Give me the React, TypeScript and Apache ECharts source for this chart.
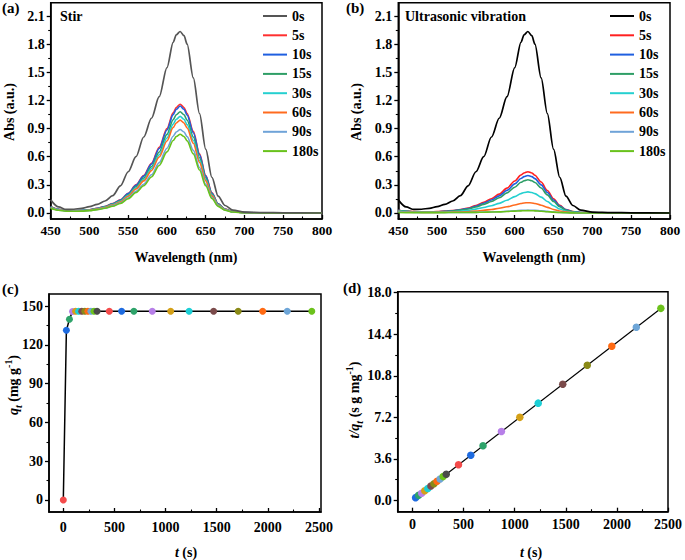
import { useEffect, useRef } from 'react';
import * as echarts from 'echarts';

const FONT = '"Liberation Serif", "Times New Roman", serif';

// ---- Panels (a) and (b): UV-vis spectra ----
const wavelength = [450, 460, 470, 480, 490, 500, 510, 520, 530, 540, 550, 560, 570, 580, 590, 600, 608, 612, 617, 622, 626, 634, 642, 650, 658, 666, 675, 685, 700, 725, 750, 800];
const timeLabels = ['0s', '5s', '10s', '15s', '30s', '60s', '90s', '180s'];

const abs0s = [0.14, 0.065, 0.038, 0.04, 0.05, 0.068, 0.092, 0.128, 0.185, 0.29, 0.44, 0.6, 0.81, 1.01, 1.24, 1.55, 1.82, 1.9, 1.935, 1.89, 1.8, 1.44, 1.06, 0.68, 0.38, 0.18, 0.08, 0.03, 0.01, 0.004, 0.002, 0];

const stir5s = [0.07, 0.039, 0.028, 0.026, 0.028, 0.035, 0.05, 0.07, 0.1, 0.14, 0.21, 0.3, 0.4, 0.53, 0.7, 0.9, 1.067, 1.125, 1.16, 1.125, 1.061, 0.87, 0.632, 0.4, 0.215, 0.099, 0.041, 0.014, 0.005, 0.001, 0, 0];
const stir10s = [0.068, 0.039, 0.027, 0.025, 0.027, 0.034, 0.049, 0.068, 0.098, 0.138, 0.206, 0.295, 0.393, 0.521, 0.687, 0.885, 1.049, 1.106, 1.14, 1.106, 1.043, 0.855, 0.621, 0.393, 0.211, 0.097, 0.04, 0.014, 0.005, 0.001, 0, 0];
const stir15s = [0.065, 0.037, 0.026, 0.024, 0.026, 0.032, 0.046, 0.065, 0.093, 0.131, 0.195, 0.28, 0.373, 0.494, 0.651, 0.838, 0.994, 1.048, 1.08, 1.048, 0.988, 0.81, 0.589, 0.373, 0.2, 0.092, 0.038, 0.013, 0.004, 0.001, 0, 0];
const stir30s = [0.062, 0.035, 0.025, 0.023, 0.025, 0.031, 0.044, 0.062, 0.089, 0.125, 0.186, 0.267, 0.355, 0.471, 0.621, 0.799, 0.948, 0.999, 1.03, 0.999, 0.942, 0.773, 0.561, 0.355, 0.191, 0.088, 0.036, 0.012, 0.004, 0.001, 0, 0];
const stir60s = [0.06, 0.034, 0.024, 0.022, 0.024, 0.03, 0.043, 0.059, 0.085, 0.12, 0.179, 0.256, 0.342, 0.452, 0.597, 0.768, 0.911, 0.96, 0.99, 0.96, 0.906, 0.743, 0.54, 0.342, 0.183, 0.084, 0.035, 0.012, 0.004, 0.001, 0, 0];
const stir90s = [0.055, 0.031, 0.022, 0.02, 0.022, 0.027, 0.038, 0.053, 0.077, 0.108, 0.161, 0.231, 0.307, 0.407, 0.537, 0.691, 0.819, 0.863, 0.89, 0.863, 0.814, 0.668, 0.485, 0.307, 0.165, 0.076, 0.031, 0.011, 0.004, 0.001, 0, 0];
const stir180s = [0.05, 0.029, 0.02, 0.018, 0.02, 0.025, 0.036, 0.05, 0.072, 0.102, 0.152, 0.218, 0.29, 0.384, 0.507, 0.652, 0.773, 0.815, 0.84, 0.815, 0.769, 0.63, 0.458, 0.29, 0.155, 0.071, 0.029, 0.01, 0.003, 0.001, 0, 0];

const ultra5s = [0.03, 0.02, 0.015, 0.013, 0.013, 0.015, 0.02, 0.027, 0.038, 0.053, 0.08, 0.114, 0.152, 0.201, 0.265, 0.341, 0.405, 0.427, 0.44, 0.427, 0.403, 0.33, 0.24, 0.152, 0.081, 0.037, 0.015, 0.005, 0.002, 0, 0, 0];
const ultra10s = [0.028, 0.019, 0.014, 0.012, 0.012, 0.014, 0.018, 0.024, 0.034, 0.048, 0.072, 0.104, 0.138, 0.183, 0.241, 0.31, 0.368, 0.388, 0.4, 0.388, 0.366, 0.3, 0.218, 0.138, 0.074, 0.034, 0.014, 0.005, 0.002, 0, 0, 0];
const ultra15s = [0.026, 0.018, 0.013, 0.011, 0.011, 0.012, 0.016, 0.021, 0.031, 0.043, 0.064, 0.092, 0.122, 0.162, 0.214, 0.275, 0.327, 0.344, 0.355, 0.344, 0.325, 0.266, 0.193, 0.122, 0.066, 0.03, 0.012, 0.004, 0.001, 0, 0, 0];
const ultra30s = [0.022, 0.015, 0.011, 0.009, 0.009, 0.009, 0.011, 0.014, 0.019, 0.027, 0.041, 0.058, 0.078, 0.103, 0.136, 0.175, 0.207, 0.218, 0.225, 0.218, 0.206, 0.169, 0.123, 0.078, 0.042, 0.019, 0.008, 0.003, 0.001, 0, 0, 0];
const ultra60s = [0.018, 0.012, 0.009, 0.007, 0.007, 0.007, 0.008, 0.009, 0.011, 0.014, 0.02, 0.028, 0.038, 0.05, 0.066, 0.085, 0.101, 0.107, 0.11, 0.107, 0.101, 0.083, 0.06, 0.038, 0.021, 0.01, 0.004, 0.002, 0.001, 0, 0, 0];
const ultra90s = [0.012, 0.009, 0.007, 0.006, 0.005, 0.005, 0.005, 0.005, 0.006, 0.006, 0.007, 0.009, 0.011, 0.014, 0.019, 0.024, 0.028, 0.029, 0.03, 0.029, 0.028, 0.023, 0.017, 0.011, 0.006, 0.003, 0.001, 0, 0, 0, 0, 0];
const ultra180s = [0.005, 0.004, 0.004, 0.004, 0.004, 0.004, 0.004, 0.005, 0.005, 0.006, 0.007, 0.008, 0.01, 0.012, 0.016, 0.02, 0.023, 0.024, 0.025, 0.024, 0.023, 0.019, 0.014, 0.009, 0.005, 0.002, 0.001, 0, 0, 0, 0, 0];

const stirSeries = [abs0s, stir5s, stir10s, stir15s, stir30s, stir60s, stir90s, stir180s];
const ultraSeries = [abs0s, ultra5s, ultra10s, ultra15s, ultra30s, ultra60s, ultra90s, ultra180s];
const stirColors = ['#555555', '#ff3030', '#1f5fe0', '#2e9e66', '#25d0d0', '#ff6b1f', '#6fa3d8', '#69c21c'];
const ultraColors = ['#000000', '#ff2020', '#1f5fe0', '#2e9e66', '#25d0d0', '#ff6b1f', '#6fa3d8', '#69c21c'];

// ---- Panel (c): q_t vs t ----
const timeC = [0, 30, 60, 90, 120, 150, 180, 210, 240, 270, 300, 330, 450, 570, 690, 870, 1050, 1230, 1470, 1710, 1950, 2190, 2430];
const qtC = [0, 131.2, 139.8, 145.8, 146, 146, 146, 146, 146, 146, 146, 146, 146, 146, 146, 146, 146, 146, 146, 146, 146, 146, 146];

// ---- Panel (d): t/q_t vs t ----
const timeD = [30, 60, 90, 120, 150, 180, 210, 240, 270, 300, 330, 450, 570, 690, 870, 1050, 1230, 1470, 1710, 1950, 2190, 2430];
const tqD = [0.229, 0.429, 0.617, 0.822, 1.027, 1.233, 1.438, 1.644, 1.849, 2.055, 2.26, 3.082, 3.904, 4.726, 5.959, 7.192, 8.425, 10.068, 11.712, 13.356, 15.0, 16.644];
const fitT = [30, 2430];
const fitTQ = [0.2, 16.64];

const dotColors = ['#f44b4b', '#1e6be0', '#2ea36a', '#b77fe8', '#d4a017', '#1ccfd6', '#7b4b4b', '#8a8a17', '#ff6a13', '#6ea6d8', '#6cc21c', '#4a4a4a'];

// tick values
const absMajor = [0, 0.3, 0.6, 0.9, 1.2, 1.5, 1.8, 2.1];
const absMinor = [0.15, 0.45, 0.75, 1.05, 1.35, 1.65, 1.95];
const wlMajor = [450, 500, 550, 600, 650, 700, 750, 800];
const wlMinor = [475, 525, 575, 625, 675, 725, 775];
const tMajor = [0, 500, 1000, 1500, 2000, 2500];
const tMinor = [250, 750, 1250, 1750, 2250];
const qMajor = [0, 30, 60, 90, 120, 150];
const qMinor = [15, 45, 75, 105, 135];
const tqMajor = [0, 3.6, 7.2, 10.8, 14.4, 18];
const tqMinor = [1.8, 5.4, 9, 12.6, 16.2];

function axisPair(kind: 'x' | 'y', gridIndex: number, min: number, max: number, majors: number[], minors: number[], fmt: (v: number) => string, fontSize: number, margin: number) {
  const inside = kind === 'x';
  const position = kind === 'x' ? 'bottom' : 'left';
  const main = {
    type: 'value', gridIndex, min, max, position,
    splitLine: { show: false },
    axisLine: { show: true, onZero: false, lineStyle: { color: '#000', width: 1.5 } },
    axisTick: { show: true, inside, length: 4, customValues: majors, lineStyle: { color: '#000', width: 1.3 } },
    axisLabel: { show: true, customValues: majors, formatter: fmt, margin, color: '#000', fontSize, fontWeight: 'bold', fontFamily: FONT },
    minorTick: { show: false },
  };
  const minor = {
    type: 'value', gridIndex, min, max, position,
    splitLine: { show: false },
    axisLine: { show: false, onZero: false },
    axisTick: { show: true, inside, length: 2.5, customValues: minors, lineStyle: { color: '#000', width: 1.1 } },
    axisLabel: { show: false },
  };
  return [main, minor];
}

const f1 = (v: number) => v.toFixed(1);
const f0 = (v: number) => String(Math.round(v));

const grids = [
  { left: 50.7, top: 2.7, width: 271.3, height: 216.3 },
  { left: 398.3, top: 2.7, width: 271.7, height: 216.3 },
  { left: 49, top: 294, width: 272, height: 218 },
  { left: 397.7, top: 291.7, width: 273.3, height: 220 },
].map((g) => ({ ...g, show: true, borderColor: '#000', borderWidth: 1.5, backgroundColor: 'transparent', containLabel: false }));

const xAxes = [
  ...axisPair('x', 0, 450, 800, wlMajor, wlMinor, f0, 13.5, 4),
  ...axisPair('x', 1, 450, 800, wlMajor, wlMinor, f0, 13.5, 4),
  ...axisPair('x', 2, -140, 2520, tMajor, tMinor, f0, 14, 8),
  ...axisPair('x', 3, -145, 2500, tMajor, tMinor, f0, 14, 6),
];
const yAxes = [
  ...axisPair('y', 0, -0.064, 2.242, absMajor, absMinor, f1, 14, 6),
  ...axisPair('y', 1, -0.064, 2.242, absMajor, absMinor, f1, 14, 6),
  ...axisPair('y', 2, -9.3, 159.3, qMajor, qMinor, f0, 14, 6),
  ...axisPair('y', 3, -0.99, 18.09, tqMajor, tqMinor, f1, 14, 6),
];

function spectrumSeries(prefix: string, grid: number, arrays: number[][], colors: string[]) {
  return arrays.map((arr, k) => ({
    type: 'line',
    name: prefix + '|' + timeLabels[k],
    xAxisIndex: grid * 2,
    yAxisIndex: grid * 2,
    data: wavelength.map((w, i) => [w, arr[i]]),
    symbol: 'none',
    smooth: 0.3,
    smoothMonotone: 'x',
    color: colors[k],
    lineStyle: { color: colors[k], width: k === 0 ? 1.7 : 1.6 },
    z: k === 0 ? 3 : 2,
  }));
}

function legendFor(prefix: string, left: number) {
  return {
    data: timeLabels.map((l) => prefix + '|' + l),
    orient: 'vertical',
    left,
    top: 9,
    padding: 0,
    icon: 'path://M0,0 L24,0 L24,2 L0,2 Z',
    symbolKeepAspect: true,
    itemWidth: 24,
    itemHeight: 14,
    itemGap: 5.3,
    selectedMode: false,
    formatter: (n: string) => n.split('|')[1],
    textStyle: { color: '#000', fontSize: 14, fontWeight: 'bold', fontFamily: FONT },
  };
}

const baseText = { fill: '#000', fontSize: 14, fontWeight: 'bold', fontFamily: FONT, align: 'center', verticalAlign: 'middle' };
const richStyles = {
  n: { fontSize: 14, fontWeight: 'bold', fontFamily: FONT, lineHeight: 20 },
  i: { fontSize: 14, fontWeight: 'bold', fontStyle: 'italic', fontFamily: FONT, lineHeight: 20 },
  s: { fontSize: 10, fontWeight: 'bold', fontStyle: 'italic', fontFamily: FONT, lineHeight: 11, verticalAlign: 'bottom' },
  p: { fontSize: 10, fontWeight: 'bold', fontFamily: FONT, lineHeight: 12, verticalAlign: 'top' },
};

function label(x: number, y: number, text: string, rotate = false, align = 'center', size = 14) {
  return {
    type: 'text', x, y, rotation: rotate ? Math.PI / 2 : 0, z: 100,
    style: { ...baseText, fontSize: size, text, align, rich: richStyles },
  };
}

const option = {
  animation: false,
  backgroundColor: '#fff',
  grid: grids,
  xAxis: xAxes,
  yAxis: yAxes,
  legend: [legendFor('a', 263), legendFor('b', 610)],
  series: [
    ...spectrumSeries('a', 0, stirSeries, stirColors),
    ...spectrumSeries('b', 1, ultraSeries, ultraColors),
    {
      type: 'line',
      name: 'qt',
      xAxisIndex: 4,
      yAxisIndex: 4,
      data: timeC.map((t, i) => ({ value: [t, qtC[i]], itemStyle: { color: dotColors[i % dotColors.length] } })),
      symbol: 'circle',
      symbolSize: 7,
      showSymbol: true,
      lineStyle: { color: '#000', width: 1.5 },
      z: 3,
    },
    {
      type: 'line',
      name: 'fit',
      xAxisIndex: 6,
      yAxisIndex: 6,
      data: fitT.map((t, i) => [t, fitTQ[i]]),
      symbol: 'none',
      lineStyle: { color: '#000', width: 1.2 },
      z: 2,
    },
    {
      type: 'scatter',
      name: 'tq',
      xAxisIndex: 6,
      yAxisIndex: 6,
      data: timeD.map((t, i) => ({ value: [t, tqD[i]], itemStyle: { color: dotColors[(i + 1) % dotColors.length] } })),
      symbol: 'circle',
      symbolSize: 7.5,
      itemStyle: { opacity: 1 },
      z: 3,
    },
  ],
  graphic: [
    label(2, 8, '(a)', false, 'left', 15),
    label(346, 8, '(b)', false, 'left', 15),
    label(2, 289, '(c)', false, 'left', 15),
    label(343, 288, '(d)', false, 'left', 15),
    label(60, 16, 'Stir', false, 'left'),
    label(405, 16, 'Ultrasonic vibration', false, 'left'),
    label(9, 112, 'Abs (a.u.)', true),
    label(356, 112, 'Abs (a.u.)', true),
    label(186, 257, 'Wavelength (nm)'),
    label(534, 257, 'Wavelength (nm)'),
    label(13, 385, '{i|q}{s|t}{n| (mg g}{p|-1}{n|)}', true),
    label(354, 400, '{i|t/q}{s|t}{n| (s g mg}{p|-1}{n|)}', true),
    label(186, 552, '{i|t}{n| (s)}'),
    label(531, 552, '{i|t}{n| (s)}'),
  ],
};

export default function App() {
  const ref = useRef<HTMLDivElement>(null);
  useEffect(() => {
    const chart = echarts.init(ref.current as HTMLDivElement, null, { renderer: 'svg' });
    chart.setOption(option as any);
    return () => chart.dispose();
  }, []);
  return <div ref={ref} style={{ position: 'fixed', left: 0, top: 0, width: 685, height: 560, background: '#fff' }} />;
}
